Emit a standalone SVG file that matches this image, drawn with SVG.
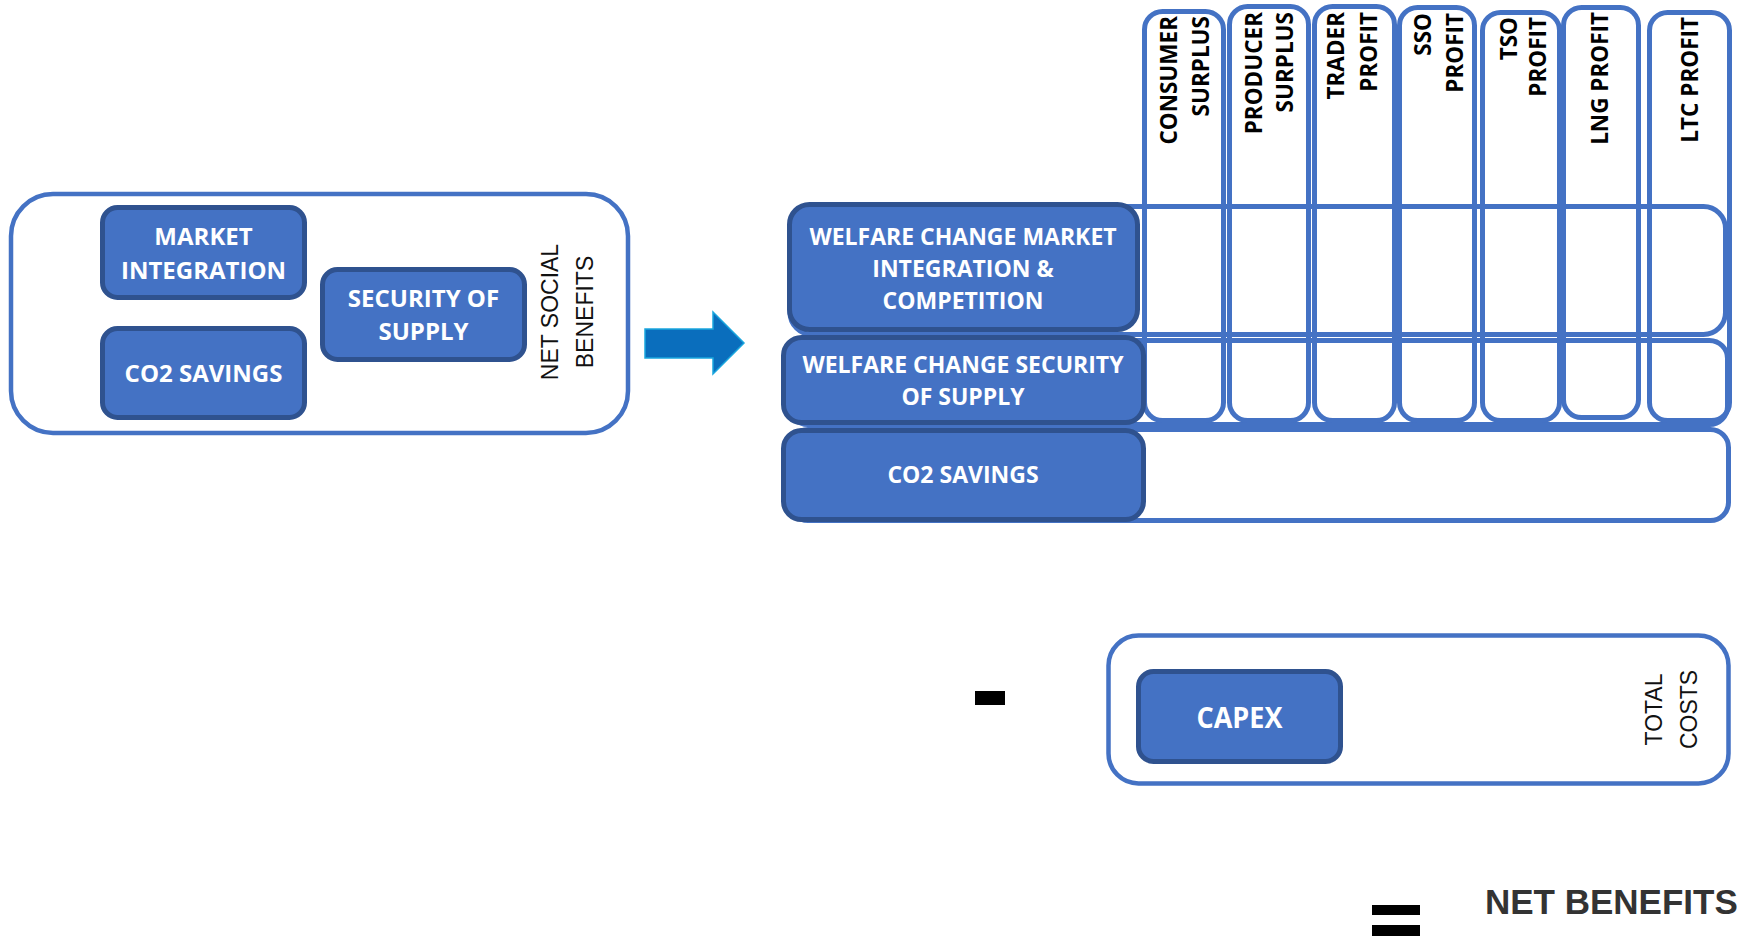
<svg xmlns="http://www.w3.org/2000/svg" width="1737" height="938" viewBox="0 0 1737 938">
<style>
.outline{fill:none;stroke:#4472C4;stroke-width:5}
.frame{fill:#fff;stroke:#4472C4;stroke-width:4.5}
.node{fill:#4472C4;stroke:#2F528F;stroke-width:5}
.wt{font-family:"Open Sans","Liberation Sans",sans-serif;font-weight:700;fill:#fff;text-anchor:middle}
.ct{font-family:"Open Sans","Liberation Sans",sans-serif;font-weight:700;fill:#000;font-size:22.5px;text-anchor:end}
.lbl{font-family:"Liberation Sans",Arial,sans-serif;fill:#111;font-size:23px;text-anchor:middle}
</style>
<rect width="1737" height="938" fill="#fff"/>

<g id="net-social-benefits">
<rect class="frame" x="11" y="194" width="617" height="239" rx="42"/>
<text class="lbl" transform="translate(558,312) rotate(-90)"><tspan x="0" y="0">NET SOCIAL</tspan><tspan x="0" y="35">BENEFITS</tspan></text>
</g>
<g id="market-integration">
<rect class="node" x="102.5" y="207.5" width="202" height="90" rx="15"/>
<text class="wt" font-size="24" x="203.5" y="245">MARKET</text>
<text class="wt" font-size="24" x="203.5" y="279">INTEGRATION</text>
</g>
<g id="co2-savings-left">
<rect class="node" x="102.5" y="328.5" width="202" height="89" rx="15"/>
<text class="wt" font-size="24" x="203.5" y="382">CO2 SAVINGS</text>
</g>
<g id="security-of-supply">
<rect class="node" x="322.5" y="269.5" width="202" height="90" rx="15"/>
<text class="wt" font-size="24" x="423.5" y="307">SECURITY OF</text>
<text class="wt" font-size="24" x="423.5" y="340">SUPPLY</text>
</g>

<g id="connectors">
<polygon points="645,329 713,329 713,312 744,343 713,374 713,358 645,358" fill="#0A6EBD" stroke="#1AA6DE" stroke-width="1.5"/>
</g>

<g id="grid">
<rect class="outline" x="790" y="206.5" width="935.5" height="128" rx="22"/>
<rect class="outline" x="790" y="340.5" width="937.5" height="84" rx="18"/>
<rect class="outline" x="790" y="429.5" width="938.5" height="91" rx="18"/>
</g>

<g id="col-consumer">
<rect class="outline" x="1144.5" y="11.5" width="79" height="409" rx="18"/>
<text class="ct" transform="translate(1177,16) rotate(-90)"><tspan x="0" y="0">CONSUMER</tspan><tspan x="0" y="32">SURPLUS</tspan></text>
</g>
<g id="col-producer">
<rect class="outline" x="1229.5" y="6.5" width="79" height="414" rx="18"/>
<text class="ct" transform="translate(1262,12) rotate(-90)"><tspan x="0" y="0">PRODUCER</tspan><tspan x="0" y="31">SURPLUS</tspan></text>
</g>
<g id="col-trader">
<rect class="outline" x="1314.5" y="6.5" width="80" height="414" rx="18"/>
<text class="ct" transform="translate(1344,12) rotate(-90)"><tspan x="0" y="0">TRADER</tspan><tspan x="0" y="33">PROFIT</tspan></text>
</g>
<g id="col-sso">
<rect class="outline" x="1399.5" y="7.5" width="75" height="413" rx="18"/>
<text class="ct" transform="translate(1431,13) rotate(-90)"><tspan x="0" y="0">SSO</tspan><tspan x="0" y="32">PROFIT</tspan></text>
</g>
<g id="col-tso">
<rect class="outline" x="1482.5" y="12.5" width="77" height="408" rx="18"/>
<text class="ct" transform="translate(1517,17) rotate(-90)"><tspan x="0" y="0">TSO</tspan><tspan x="0" y="29">PROFIT</tspan></text>
</g>
<g id="col-lng">
<rect class="outline" x="1563.5" y="7.5" width="75" height="410" rx="18"/>
<text class="ct" transform="translate(1608,12) rotate(-90)">LNG PROFIT</text>
</g>
<g id="col-ltc">
<rect class="outline" x="1649.5" y="12.5" width="80" height="408" rx="18"/>
<text class="ct" transform="translate(1698,17) rotate(-90)">LTC PROFIT</text>
</g>

<g id="welfare-market">
<rect class="node" x="789.5" y="204.5" width="348" height="125" rx="20"/>
<text class="wt" font-size="23" x="963" y="245">WELFARE CHANGE MARKET</text>
<text class="wt" font-size="23" x="963" y="277">INTEGRATION &amp;</text>
<text class="wt" font-size="23" x="963" y="309">COMPETITION</text>
</g>
<g id="welfare-security">
<rect class="node" x="783.5" y="337.5" width="360" height="85" rx="18"/>
<text class="wt" font-size="23" x="963" y="373">WELFARE CHANGE SECURITY</text>
<text class="wt" font-size="23" x="963" y="405">OF SUPPLY</text>
</g>
<g id="co2-savings-right">
<rect class="node" x="783.5" y="430.5" width="360" height="89" rx="18"/>
<text class="wt" font-size="23" x="963" y="483">CO2 SAVINGS</text>
</g>

<g id="minus">
<rect x="975" y="691" width="30" height="14" fill="#000"/>
</g>

<g id="total-costs">
<rect class="frame" x="1108.5" y="635.5" width="620" height="148" rx="30"/>
<text class="lbl" font-size="23.5" transform="translate(1662,709.5) rotate(-90)"><tspan x="0" y="0">TOTAL</tspan><tspan x="0" y="35">COSTS</tspan></text>
</g>
<g id="capex">
<rect class="node" x="1138.5" y="671.5" width="202" height="90" rx="15"/>
<text class="wt" font-size="28" x="1239.5" y="728" textLength="86" lengthAdjust="spacingAndGlyphs">CAPEX</text>
</g>

<g id="equals">
<rect x="1372" y="905" width="48" height="10" fill="#000"/>
<rect x="1372" y="925" width="48" height="11" fill="#000"/>
</g>
<g id="net-benefits">
<text x="1485" y="914" font-family="'Liberation Sans',Arial,sans-serif" font-weight="700" font-size="35" fill="#333">NET BENEFITS</text>
</g>
</svg>
